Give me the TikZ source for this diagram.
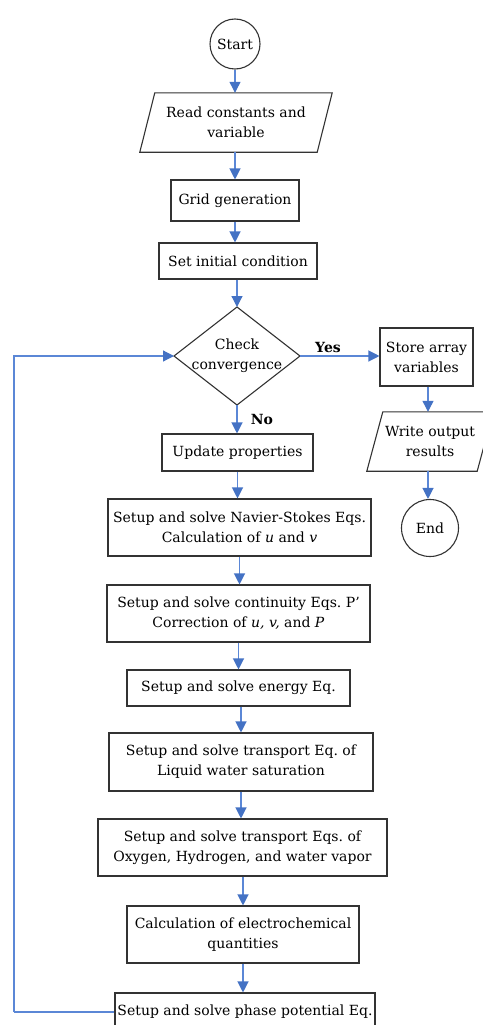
\documentclass[tikz,border=0pt]{standalone}
\usepackage{fontspec}
\setmainfont{DejaVu Serif}
\usetikzlibrary{arrows.meta,calc}
\definecolor{flowblue}{HTML}{4472C4}
\definecolor{lineblue}{HTML}{5B87D6}
\definecolor{boxline}{HTML}{333333}
\tikzset{
  base/.style={font=\fontsize{14}{20}\selectfont, text=black, align=center, inner sep=0pt},
  box/.style={base, draw=boxline, line width=1.1pt, rectangle},
  io/.style={base},
  term/.style={base, draw=boxline, line width=1.1pt, circle},
  flow/.style={draw=lineblue, line width=1.2pt, -{Triangle[length=11pt,width=11pt,color=flowblue]}},
  loopline/.style={draw=lineblue, line width=1.2pt},
  lbl/.style={font=\fontsize{14}{16}\selectfont\bfseries, inner sep=0pt},
  shapeline/.style={draw=boxline, line width=1.1pt}
}
\begin{document}
\frenchspacing
\begin{tikzpicture}[x=1pt,y=-1pt]
\useasboundingbox (0,0) rectangle (482,1025);
% terminals and boxes
\node[term, minimum size=50pt] (start) at (235,44) {Start};
\node[io, minimum width=177pt, minimum height=59pt] (read) at (236,122.5) {Read constants and\\variable};
\draw[shapeline] ([xshift=7.5pt]read.north west) -- ([xshift=7.5pt]read.north east) -- ([xshift=-7.5pt]read.south east) -- ([xshift=-7.5pt]read.south west) -- cycle;
\node[box, minimum width=128pt, minimum height=41pt] (grid) at (235,200.5) {Grid generation};
\node[box, minimum width=158pt, minimum height=36pt] (init) at (238,261) {Set initial condition};
% decision
\node[base] (chk) at (237,356) {Check\\convergence};
\coordinate (chkT) at (237,307);
\coordinate (chkL) at (174,356);
\coordinate (chkR) at (300,356);
\coordinate (chkB) at (237,405);
\draw[shapeline] (chkT) -- (chkR) -- (chkB) -- (chkL) -- cycle;
\node[lbl] (yes) at (328,347) {Yes};
\node[lbl] (no) at (262,419) {No};
% right branch
\node[box, minimum width=93pt, minimum height=58pt] (store) at (426.5,357) {Store array\\variables};
\node[io, minimum width=110pt, minimum height=59pt] (write) at (430,441.5) {Write output\\results};
\draw[shapeline] ([xshift=8pt]write.north west) -- ([xshift=8pt]write.north east) -- ([xshift=-8pt]write.south east) -- ([xshift=-8pt]write.south west) -- cycle;
\node[term, minimum size=57pt] (end) at (430,528) {End};
% main column
\node[box, minimum width=151pt, minimum height=37pt] (upd) at (237.5,452.5) {Update properties};
\node[box, minimum width=263pt, minimum height=57pt] (ns) at (239.5,527.5) {Setup and solve Navier-Stokes Eqs.\\Calculation of \textit{u} and \textit{v}};
\node[box, minimum width=263pt, minimum height=57pt] (cont) at (238.5,613.5) {Setup and solve continuity Eqs. P'\\Correction of \textit{u, v,} and \textit{P}};
\node[box, minimum width=223pt, minimum height=36pt] (energy) at (238.5,688) {Setup and solve energy Eq.};
\node[box, minimum width=264pt, minimum height=58pt] (tr1) at (241,762) {Setup and solve transport Eq. of\\Liquid water saturation};
\node[box, minimum width=289pt, minimum height=57pt] (tr2) at (242.5,847.5) {Setup and solve transport Eqs. of\\Oxygen, Hydrogen, and water vapor};
\node[box, minimum width=232pt, minimum height=57pt] (calc) at (243,934.5) {Calculation of electrochemical\\quantities};
\node[box, minimum width=260pt, minimum height=38pt] (phase) at (245,1012) {Setup and solve phase potential Eq.};
\coordinate (loopc) at (14,1012);
% connectors
\draw[flow] (start.south) -- (start.south |- read.north);
\draw[flow] (read.south -| grid.north) -- (grid.north);
\draw[flow] (grid.south) -- (grid.south |- init.north);
\draw[flow] (init.south -| chkT) -- (chkT);
\draw[flow] (chkB) -- (chkB |- upd.north);
\draw[flow] (chkR) -- (chkR -| store.west);
\draw[flow] (store.south -| 428,0) -- (428,0 |- write.north);
\draw[flow] (428,0 |- write.south) -- (end.north -| 428,0);
\draw[flow] (upd.south) -- (upd.south |- ns.north);
\draw[flow] (ns.south) -- (ns.south |- cont.north);
\draw[flow] (cont.south) -- (cont.south |- energy.north);
\draw[flow] (energy.south -| tr1.north) -- (tr1.north);
\draw[flow] (tr1.south) -- (tr1.south |- tr2.north);
\draw[flow] (tr2.south -| calc.north) -- (calc.north);
\draw[flow] (calc.south) -- (calc.south |- phase.north);
\draw[loopline] (phase.west) -- (loopc);
\draw[flow] (loopc) |- (chkL);
\end{tikzpicture}
\end{document}
